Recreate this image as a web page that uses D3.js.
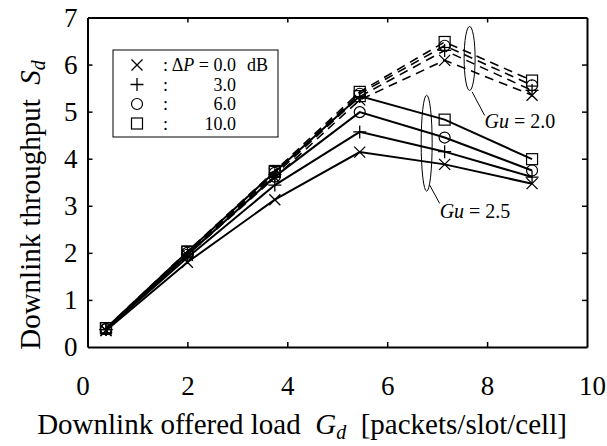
<!DOCTYPE html>
<html lang="en">
<head>
  <meta charset="UTF-8" />
  <title>Downlink throughput vs offered load</title>
  <script src="https://cdn.jsdelivr.net/npm/d3@7/dist/d3.min.js"></script>
  <style>
    body {
      margin: 0;
      background: #fff;
    }
    svg text {
      font-family: "Liberation Serif", "DejaVu Serif", serif;
      fill: #000;
    }
  </style>
</head>
<body>
  <div id="chart"></div>

  <script>
    // offered load values (x)
    const loads = [0.37, 2.0, 3.75, 5.45, 7.15, 8.9];

    const deltaP = ["0.0", "3.0", "6.0", "10.0"];
    const symbols = ["cross", "plus", "circle", "square"];

    // Gu = 2.5 (solid lines), one array per ΔP
    const gu25 = [
      [0.35, 1.80, 3.13, 4.14, 3.88, 3.47],
      [0.37, 1.90, 3.44, 4.57, 4.15, 3.61],
      [0.38, 1.96, 3.62, 4.99, 4.45, 3.75],
      [0.40, 2.02, 3.72, 5.33, 4.83, 3.99]
    ];

    // Gu = 2.0 (dashed lines)
    const gu20 = [
      [0.35, 1.95, 3.60, 5.25, 6.09, 5.35],
      [0.37, 1.98, 3.66, 5.32, 6.30, 5.45],
      [0.38, 2.00, 3.70, 5.38, 6.40, 5.56],
      [0.40, 2.03, 3.74, 5.42, 6.48, 5.66]
    ];

    const xTicks = [0, 2, 4, 6, 8, 10];
    const yTicks = [0, 1, 2, 3, 4, 5, 6, 7];

    const width = 607;
    const height = 446;
    const margin = { top: 17.5, right: 20, bottom: 99, left: 87.5 };

    const svg = d3.select("#chart")
      .append("svg")
      .attr("width", width)
      .attr("height", height);

    const x = d3.scaleLinear()
      .domain([0, 10])
      .range([margin.left, width - margin.right]);

    const y = d3.scaleLinear()
      .domain([0, 7])
      .range([height - margin.bottom, margin.top]);

    // frame with inward ticks on all four sides
    const axisStyle = g => {
      g.attr("font-size", null).attr("font-family", null);
      g.select(".domain").attr("stroke-width", 2).attr("stroke", "#000");
      g.selectAll(".tick line").attr("stroke-width", 1.5).attr("stroke", "#000");
      g.selectAll(".tick text").style("font-size", "27px");
    };

    svg.append("g")
      .attr("transform", `translate(0,${y(0)})`)
      .call(d3.axisBottom(x).tickValues(xTicks).tickFormat(d3.format("d"))
        .tickSizeInner(-5).tickSizeOuter(0).tickPadding(29))
      .call(axisStyle)
      .call(g => g.selectAll(".tick text")
        .attr("dx", d => d === 0 ? -5 : d === 10 ? 5 : 0));

    svg.append("g")
      .attr("transform", `translate(0,${y(7)})`)
      .call(d3.axisTop(x).tickValues(xTicks).tickSizeInner(-5).tickSizeOuter(0).tickFormat(""))
      .call(axisStyle);

    svg.append("g")
      .attr("transform", `translate(${x(0)},0)`)
      .call(d3.axisLeft(y).tickValues(yTicks).tickFormat(d3.format("d"))
        .tickSizeInner(-5).tickSizeOuter(0).tickPadding(10))
      .call(axisStyle);

    svg.append("g")
      .attr("transform", `translate(${x(10)},0)`)
      .call(d3.axisRight(y).tickValues(yTicks).tickSizeInner(-5).tickSizeOuter(0).tickFormat(""))
      .call(axisStyle);

    // hide corner tick marks
    svg.selectAll(".tick").filter(d => d === 0 || d === 10 || d === 7).select("line").remove();

    const line = d3.line()
      .x((d, i) => x(loads[i]))
      .y(d => y(d));

    // draws one marker shape at (cx, cy)
    function marker(g, type, cx, cy) {
      const r = 5.5;
      if (type === "cross") {
        g.append("path")
          .attr("d", `M${cx - r},${cy - r}L${cx + r},${cy + r}M${cx - r},${cy + r}L${cx + r},${cy - r}`)
          .attr("stroke", "#000").attr("stroke-width", 1.3);
      } else if (type === "plus") {
        g.append("path")
          .attr("d", `M${cx - r - 1},${cy}L${cx + r + 1},${cy}M${cx},${cy - r - 1}L${cx},${cy + r + 1}`)
          .attr("stroke", "#000").attr("stroke-width", 1.3);
      } else if (type === "circle") {
        g.append("circle")
          .attr("cx", cx).attr("cy", cy).attr("r", r)
          .attr("fill", "none")
          .attr("stroke", "#000").attr("stroke-width", 1.2);
      } else {
        g.append("rect")
          .attr("x", cx - r).attr("y", cy - r)
          .attr("width", 2 * r).attr("height", 2 * r)
          .attr("fill", "none")
          .attr("stroke", "#000").attr("stroke-width", 1.2);
      }
    }

    const plot = svg.append("g");

    gu20.forEach(vals => {
      plot.append("path")
        .datum(vals)
        .attr("d", line)
        .attr("fill", "none")
        .attr("stroke", "#000")
        .attr("stroke-width", 1.6)
        .attr("stroke-dasharray", "9,6");
    });

    gu25.forEach(vals => {
      plot.append("path")
        .datum(vals)
        .attr("d", line)
        .attr("fill", "none")
        .attr("stroke", "#000")
        .attr("stroke-width", 2);
    });

    [gu20, gu25].forEach(group => {
      group.forEach((vals, k) => {
        vals.forEach((v, i) => marker(plot, symbols[k], x(loads[i]), y(v)));
      });
    });

    // Gu annotations: ellipse + leader line + label (data units)
    const notes = [
      { label: "2.0", cx: 7.65, cy: 6.13, ry: 0.68, from: [7.7, 5.42], to: [7.95, 4.92], tx: 7.95, ty: 4.65 },
      { label: "2.5", cx: 6.79, cy: 4.33, ry: 1.02, from: [6.85, 3.44], to: [7.05, 3.05], tx: 7.05, ty: 2.74 }
    ];

    notes.forEach(n => {
      svg.append("ellipse")
        .attr("cx", x(n.cx)).attr("cy", y(n.cy))
        .attr("rx", 5.5).attr("ry", y(0) - y(n.ry))
        .attr("fill", "none")
        .attr("stroke", "#000")
        .attr("stroke-width", 1);
      svg.append("line")
        .attr("x1", x(n.from[0])).attr("y1", y(n.from[1]))
        .attr("x2", x(n.to[0])).attr("y2", y(n.to[1]))
        .attr("stroke", "#000")
        .attr("stroke-width", 1);
      const t = svg.append("text")
        .attr("x", x(n.tx)).attr("y", y(n.ty))
        .attr("font-size", 20);
      t.append("tspan").attr("font-style", "italic").text("Gu");
      t.append("tspan").text(" = " + n.label);
    });

    // legend
    const lg = svg.append("g").attr("transform", "translate(113,50)");
    lg.append("rect")
      .attr("width", 165).attr("height", 87)
      .attr("fill", "#fff")
      .attr("stroke", "#000")
      .attr("stroke-width", 1);

    deltaP.forEach((p, k) => {
      const cy = 15 + k * 19.5;
      marker(lg, symbols[k], 24, cy);
      lg.append("text")
        .attr("x", 50).attr("y", cy + 6)
        .attr("font-size", 18)
        .text(":");
      const t = lg.append("text")
        .attr("x", 123).attr("y", cy + 6)
        .attr("font-size", 18)
        .attr("text-anchor", "end");
      if (k === 0) {
        t.append("tspan").text("\u0394");
        t.append("tspan").attr("font-style", "italic").text("P");
        t.append("tspan").text(" = " + p);
      } else {
        t.text(p);
      }
      if (k === 0) {
        lg.append("text")
          .attr("x", 134).attr("y", cy + 6)
          .attr("font-size", 18)
          .text("dB");
      }
    });

    // axis titles
    const xt = svg.append("text")
      .attr("x", 302).attr("y", 434)
      .attr("text-anchor", "middle")
      .attr("font-size", 29);
    xt.append("tspan").text("Downlink offered load\u00a0\u00a0");
    xt.append("tspan").attr("font-style", "italic").text("G");
    xt.append("tspan").attr("font-size", 20).attr("font-style", "italic").attr("dy", 5).text("d");
    xt.append("tspan").attr("dy", -5).text("\u00a0\u00a0[packets/slot/cell]");

    const yt = svg.append("text")
      .attr("transform", "translate(40,205) rotate(-90)")
      .attr("text-anchor", "middle")
      .attr("font-size", 29);
    yt.append("tspan").text("Downlink throughput\u00a0\u00a0");
    yt.append("tspan").attr("font-style", "italic").text("S");
    yt.append("tspan").attr("font-size", 20).attr("font-style", "italic").attr("dy", 5).text("d");
  </script>
</body>
</html>
